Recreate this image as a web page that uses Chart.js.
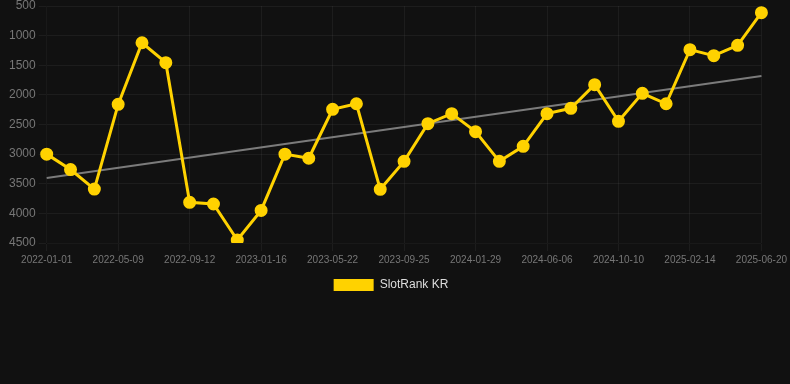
<!DOCTYPE html>
<html lang="en">
<head>
    <meta charset="UTF-8">
    <title>SlotRank KR</title>
    <script src="https://cdn.jsdelivr.net/npm/chart.js"></script>
    <style>
        body {
            margin: 0;
            background-color: #111111;
            font-family: Arial, "Liberation Sans", sans-serif;
        }
        .wrap {
            position: relative;
            width: 790px;
            height: 301px;
        }
    </style>
</head>
<body>
    <div class="wrap">
        <canvas id="rankChart"></canvas>
    </div>

    <script>
        // dates (every 3rd is shown on the axis)
        var dates = [
            "2022-01-01", "2022-02-12", "2022-03-27", "2022-05-09", "2022-06-20", "2022-08-01",
            "2022-09-12", "2022-10-24", "2022-12-05", "2023-01-16", "2023-02-27", "2023-04-10",
            "2023-05-22", "2023-07-03", "2023-08-14", "2023-09-25", "2023-11-06", "2023-12-18",
            "2024-01-29", "2024-03-11", "2024-04-22", "2024-06-06", "2024-07-18", "2024-08-29",
            "2024-10-10", "2024-11-21", "2025-01-02", "2025-02-14", "2025-03-28", "2025-05-09",
            "2025-06-20"
        ];

        // rank values, lower is better
        var rankKR = [
            3000, 3260, 3590, 2160, 1120, 1456,
            3814, 3842, 4450, 3950, 3000, 3070,
            2244, 2150, 3594, 3122, 2486, 2317,
            2621, 3122, 2868, 2317, 2227, 1828,
            2446, 1974, 2150, 1237, 1338, 1164,
            612
        ];

        // trend line, only its two ends
        var trendStart = 3403;
        var trendEnd = 1681;

        var yTicks = { min: 500, max: 4500, step: 500 };

        var trendData = dates.map(function (d, i) {
            if (i === 0) return trendStart;
            if (i === dates.length - 1) return trendEnd;
            return null;
        });

        var ctx = document.getElementById('rankChart').getContext('2d');
        var rankChart = new Chart(ctx, {
            type: 'line',
            data: {
                labels: dates,
                datasets: [
                    {
                        label: "SlotRank KR",
                        data: rankKR,
                        borderColor: "#FFD200",
                        backgroundColor: "#FFD200",
                        borderWidth: 3,
                        pointRadius: 5,
                        pointHoverRadius: 6,
                        tension: 0,
                        fill: false
                    },
                    {
                        label: "trend",
                        data: trendData,
                        borderColor: "rgba(150,150,150,0.8)",
                        borderWidth: 2,
                        pointRadius: 0,
                        spanGaps: true,
                        fill: false
                    }
                ]
            },
            options: {
                responsive: true,
                maintainAspectRatio: false,
                animation: false,
                layout: { autoPadding: false, padding: { top: 0, right: 14, left: 6, bottom: 0 } },
                plugins: {
                    legend: {
                        position: 'bottom',
                        labels: {
                            color: "#dddddd",
                            font: { size: 12 },
                            boxWidth: 40,
                            boxHeight: 12,
                            generateLabels: function (chart) {
                                var items = Chart.defaults.plugins.legend.labels.generateLabels(chart);
                                items.forEach(function (it) { it.lineWidth = 0; });
                                return items;
                            },
                            filter: function (item) { return item.datasetIndex === 0; }
                        }
                    },
                    tooltip: { enabled: false }
                },
                scales: {
                    x: {
                        grid: { color: "rgba(255,255,255,0.05)" },
                        ticks: {
                            color: "#777777",
                            font: { size: 10 },
                            maxRotation: 0,
                            autoSkip: true,
                            maxTicksLimit: 11
                        }
                    },
                    y: {
                        reverse: true,
                        min: yTicks.min,
                        max: yTicks.max,
                        grid: { color: "rgba(255,255,255,0.05)" },
                        ticks: {
                            color: "#777777",
                            font: { size: 12, lineHeight: 0.5 },
                            stepSize: yTicks.step,
                            callback: function (v) { return String(v); }
                        }
                    }
                }
            }
        });
    </script>
</body>
</html>
